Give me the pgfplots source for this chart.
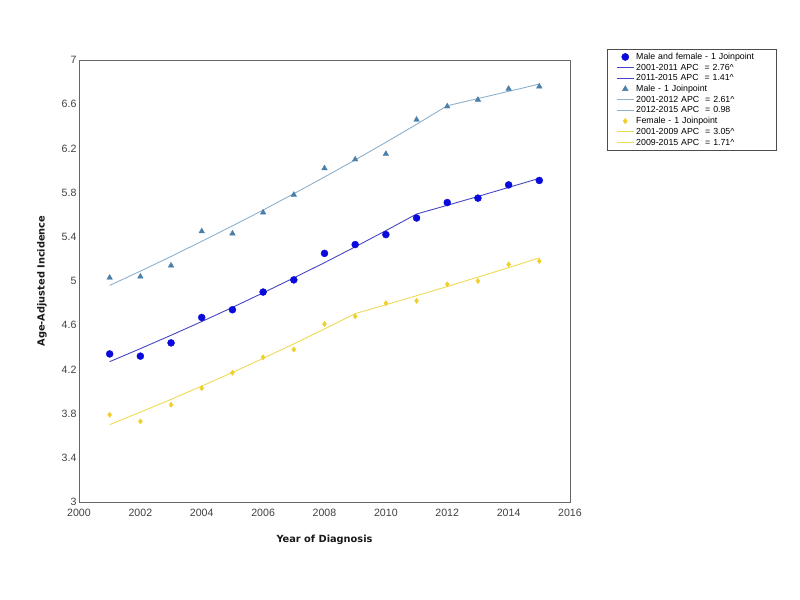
\documentclass[border=0pt]{standalone}
\usepackage{pgfplots}
\pgfplotsset{compat=1.18}
\usepackage{fontspec}
\setmainfont{Liberation Sans}
\newfontfamily\labfont{DejaVu Sans}
\definecolor{mfdot}{HTML}{0A0ADC}
\definecolor{mfline}{HTML}{4646C4}
\definecolor{mdot}{HTML}{4A7FAA}
\definecolor{mline}{HTML}{8DB0CC}
\definecolor{fdot}{HTML}{F0D028}
\definecolor{fline}{HTML}{EEDA55}
\definecolor{txt}{HTML}{404040}
\begin{document}
\begin{tikzpicture}
\useasboundingbox (-79bp,-98bp) rectangle (721bp,502bp);
\begin{axis}[
  scale only axis, width=491bp, height=442bp,
  xmin=2000, xmax=2016, ymin=3, ymax=7,
  xtick={2000,2002,...,2016},
  ytick={3,3.4,3.8,4.2,4.6,5,5.4,5.8,6.2,6.6,7},
  yticklabels={3,3.4,3.8,4.2,4.6,5,5.4,5.8,6.2,6.6,7},
  xticklabel style={/pgf/number format/1000 sep={}},
  /pgf/number format/assume math mode=true,
  major tick length=0pt,
  tick label style={font=\fontsize{10.6bp}{12bp}\selectfont, text=txt},
  yticklabel style={xshift=1bp},
  xticklabel style={yshift=-4bp},
  axis line style={draw=black!60, line width=0.9bp},
  xlabel={\labfont\bfseries Year of Diagnosis},
  ylabel={\labfont\bfseries Age-Adjusted Incidence},
  label style={font=\fontsize{9.8bp}{11bp}\selectfont, text=black!90},
  xlabel style={at={(axis description cs:0.5,-0.086)}, anchor=center},
  ylabel style={at={(axis description cs:-0.0754,0.5)}, anchor=center},
  legend cell align=left,
  legend style={at={(1.0754,1.0249)}, anchor=north west, draw=black!70, line width=0.6bp,
    font=\fontsize{8.8bp}{10bp}\selectfont, row sep=0pt, inner xsep=9bp, inner ysep=2.3bp,
    nodes={inner ysep=0.6bp, text height=7.3bp, text depth=2.2bp, text width=129bp}},
]
% Male and female
\addplot[only marks, mark=*, mark size=3.5bp, color=mfdot] coordinates {
(2001,4.34) (2002,4.32) (2003,4.44) (2004,4.67) (2005,4.74) (2006,4.90) (2007,5.01) (2008,5.25)
(2009,5.33) (2010,5.42) (2011,5.57) (2012,5.71) (2013,5.75) (2014,5.87) (2015,5.91)};
\addlegendentry{Male and female - 1 Joinpoint}
\addplot[no marks, color=mfline, line width=0.9bp] coordinates {
(2001,4.270) (2002,4.388) (2003,4.509) (2004,4.633) (2005,4.761) (2006,4.893) (2007,5.028)
(2008,5.166) (2009,5.309) (2010,5.456) (2011,5.606)};
\addlegendentry{2001-2011 APC \ = 2.76\textasciicircum}
\addplot[no marks, color=mfline, line width=0.9bp] coordinates {
(2011,5.606) (2012,5.685) (2013,5.765) (2014,5.847) (2015,5.929)};
\addlegendentry{2011-2015 APC \ = 1.41\textasciicircum}
% Male
\addplot[only marks, mark=triangle*, mark size=3.2bp, color=mdot] coordinates {
(2001,5.03) (2002,5.04) (2003,5.14) (2004,5.45) (2005,5.43) (2006,5.62) (2007,5.78) (2008,6.02)
(2009,6.10) (2010,6.15) (2011,6.46) (2012,6.58) (2013,6.64) (2014,6.74) (2015,6.76)};
\addlegendentry{Male - 1 Joinpoint}
\addplot[no marks, color=mline, line width=0.9bp] coordinates {
(2001,4.960) (2002,5.089) (2003,5.222) (2004,5.359) (2005,5.499) (2006,5.642) (2007,5.790)
(2008,5.941) (2009,6.096) (2010,6.255) (2011,6.418) (2012,6.586)};
\addlegendentry{2001-2012 APC \ = 2.61\textasciicircum}
\addplot[no marks, color=mline, line width=0.9bp] coordinates {
(2012,6.586) (2013,6.651) (2014,6.716) (2015,6.782)};
\addlegendentry{2012-2015 APC \ = 0.98}
% Female
\addplot[only marks, mark=diamond*, mark size=2.6bp, color=fdot] coordinates {
(2001,3.79) (2002,3.73) (2003,3.88) (2004,4.03) (2005,4.17) (2006,4.31) (2007,4.38) (2008,4.61)
(2009,4.68) (2010,4.80) (2011,4.82) (2012,4.97) (2013,5.00) (2014,5.15) (2015,5.18)};
\addlegendentry{Female - 1 Joinpoint}
\addplot[no marks, color=fline, line width=0.9bp] coordinates {
(2001,3.700) (2002,3.813) (2003,3.929) (2004,4.049) (2005,4.172) (2006,4.300) (2007,4.431)
(2008,4.566) (2009,4.705)};
\addlegendentry{2001-2009 APC \ = 3.05\textasciicircum}
\addplot[no marks, color=fline, line width=0.9bp] coordinates {
(2009,4.705) (2010,4.785) (2011,4.867) (2012,4.950) (2013,5.035) (2014,5.121) (2015,5.209)};
\addlegendentry{2009-2015 APC \ = 1.71\textasciicircum}
\end{axis}
\end{tikzpicture}
\end{document}
